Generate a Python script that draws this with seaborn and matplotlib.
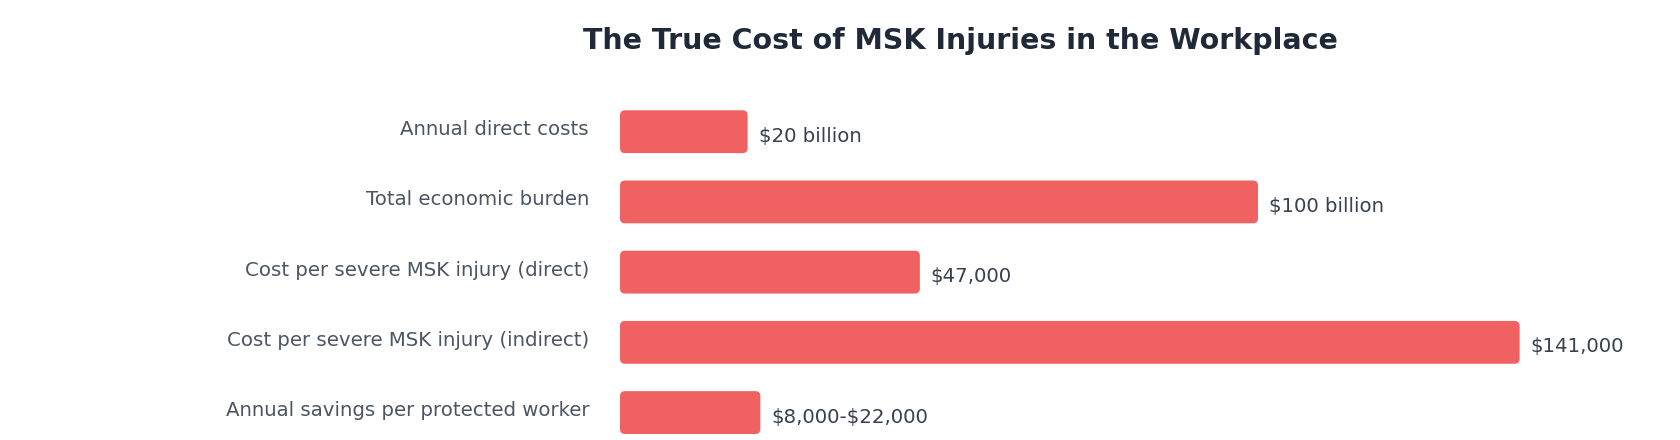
import matplotlib
matplotlib.use("Agg")
import matplotlib.pyplot as plt
import matplotlib.transforms as mtransforms
from matplotlib.patches import FancyBboxPatch
import seaborn as sns
import pandas as pd

categories = [
    "Annual direct costs",
    "Total economic burden",
    "Cost per severe MSK injury (direct)",
    "Cost per severe MSK injury (indirect)",
    "Annual savings per protected worker",
]
bar_values = [20, 100, 47, 141, 22]
value_labels = ["$20 billion", "$100 billion", "$47,000", "$141,000", "$8,000-$22,000"]
title = "The True Cost of MSK Injuries in the Workplace"

BAR = "#f06161"
TITLE_C = "#1f2937"
CAT_C = "#4b5563"
VAL_C = "#374151"

sns.set_theme(style="white")
plt.rcParams["font.family"] = ["DejaVu Sans"]

W, H, DPI = 1680, 440, 100
fig = plt.figure(figsize=(W / DPI, H / DPI), dpi=DPI)
ax = fig.add_axes([620 / W, -0.0015, 1 - 620 / W - 0.002, 0.782])

df = pd.DataFrame({"cat": categories, "val": bar_values})
sns.barplot(data=df, x="val", y="cat", color=BAR, width=0.61, ax=ax, saturation=1)
ax.set_xlim(0, (W - 620 - 3.4) / 6.38)
ax.set_ylim(4.4, -0.5)
ax.axis("off")

fig.canvas.draw()
# rounded bars
px_x = ax.transData.transform((1, 0))[0] - ax.transData.transform((0, 0))[0]
px_y = abs(ax.transData.transform((0, 1))[1] - ax.transData.transform((0, 0))[1])
r_px = 5.0
bars = list(ax.patches)
for p in bars:
    x, y, w, h = p.get_x(), p.get_y(), p.get_width(), p.get_height()
    fb = FancyBboxPatch((x, y), w, h,
                        boxstyle=f"round,pad=0,rounding_size={r_px / px_x}",
                        mutation_aspect=px_x / px_y,
                        facecolor=BAR, edgecolor="none", clip_on=False)
    ax.add_patch(fb)
    p.remove()

fs = 14.2
for i, (cat, v, lab) in enumerate(zip(categories, bar_values, value_labels)):
    t1 = mtransforms.offset_copy(ax.transData, fig=fig, x=-31, y=-3.5, units="dots")
    ax.text(0, i, cat, transform=t1, ha="right", va="baseline", fontsize=fs,
            color=CAT_C, clip_on=False, parse_math=False)
    t2 = mtransforms.offset_copy(ax.transData, fig=fig, x=11, y=-10, units="dots")
    ax.text(v, i, lab, transform=t2, ha="left", va="baseline", fontsize=fs,
            color=VAL_C, clip_on=False, parse_math=False)

fig.text(960 / W, 1 - 41 / H, title, ha="center", va="center", fontsize=20.5,
         fontweight="bold", color=TITLE_C, parse_math=False)

fig.savefig("out.png", dpi=DPI)
